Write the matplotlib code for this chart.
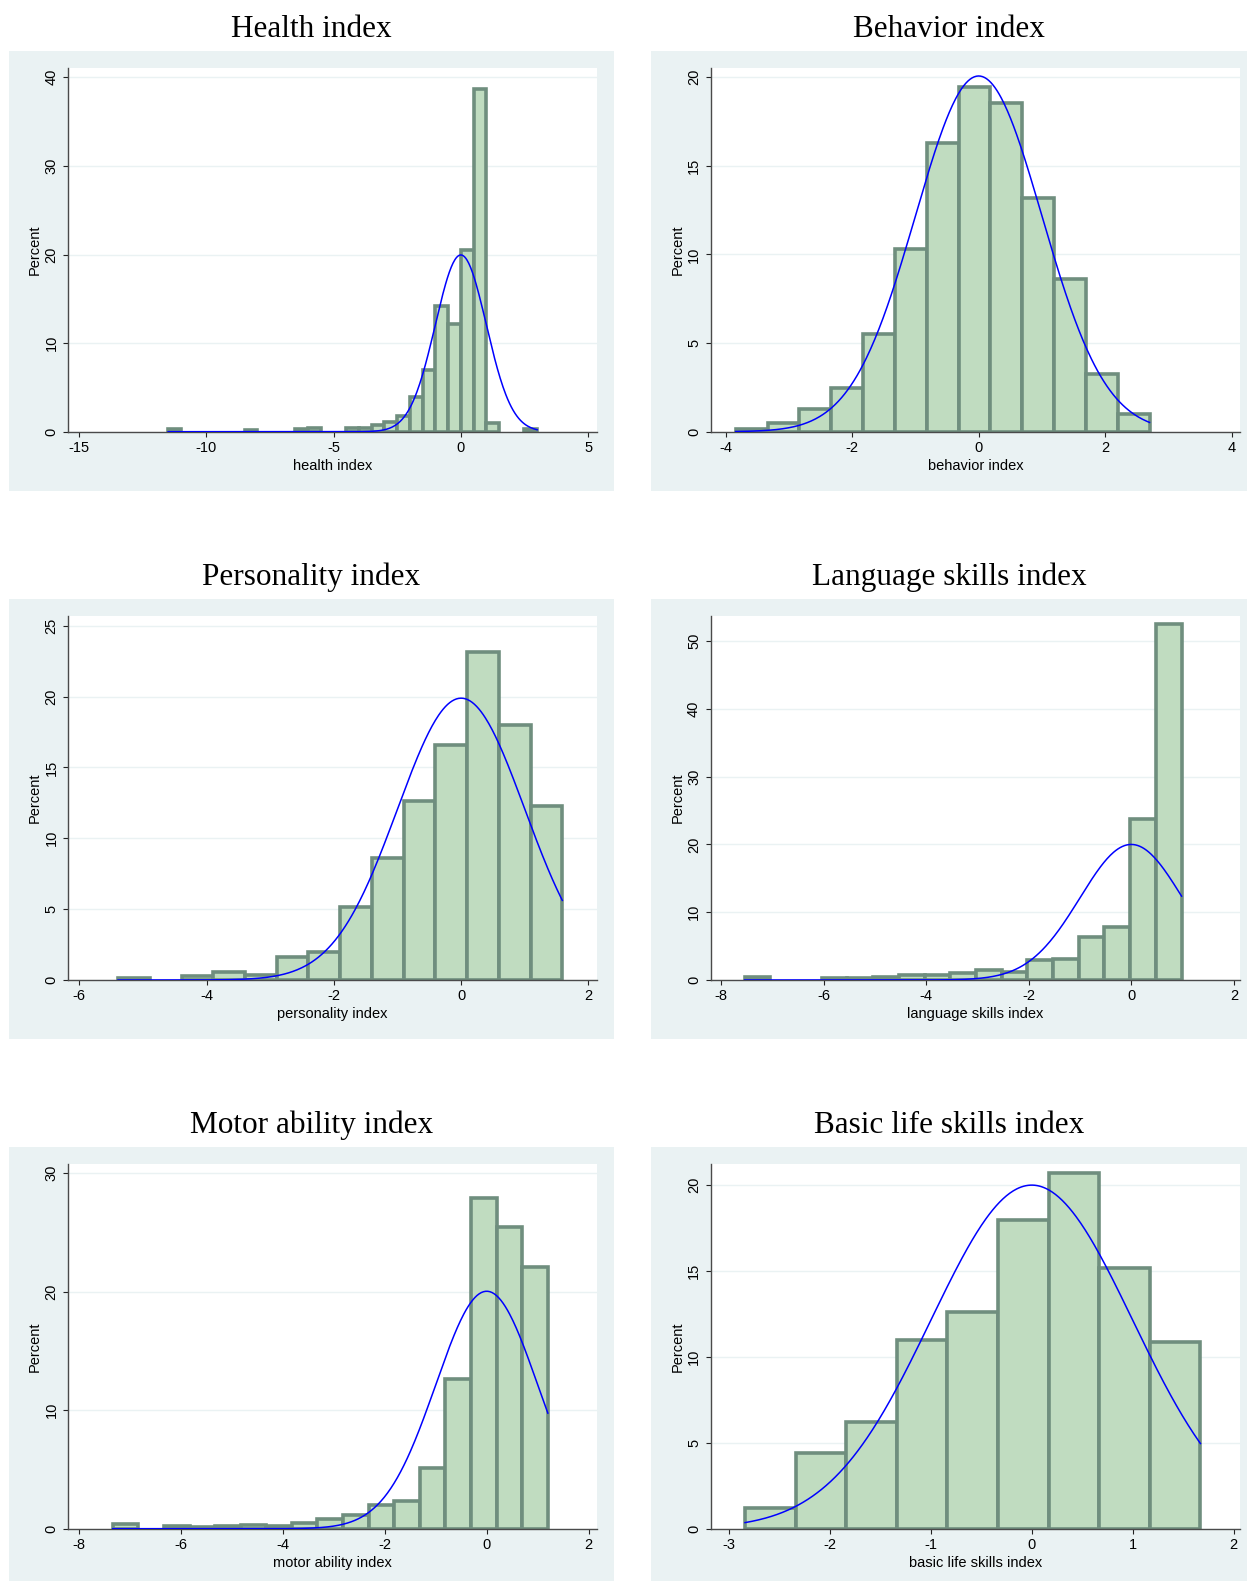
import numpy as np
import matplotlib.pyplot as plt
from matplotlib.patches import Rectangle

W, H = 1247, 1581

titles = ["Health index", "Behavior index", "Personality index",
          "Language skills index", "Motor ability index", "Basic life skills index"]
xlabels = ["health index", "behavior index", "personality index",
           "language skills index", "motor ability index", "basic life skills index"]

# histogram bins: (min, max) of the data, percent per bin
health_range = (-11.5, 3.0)
health_pct = [0.25, 0, 0, 0, 0, 0, 0.2, 0, 0, 0, 0.25, 0.4, 0, 0, 0.4, 0.4,
              0.75, 1.05, 1.8, 3.9, 7.0, 14.2, 12.1, 20.5, 38.7, 0.95, 0, 0, 0.26]

behavior_range = (-3.84, 2.70)
behavior_pct = [0.13, 0.5, 1.3, 2.48, 5.53, 10.31, 16.27, 19.42, 18.57, 13.19,
                8.6, 3.24, 0.98]

personality_range = (-5.39, 1.59)
personality_pct = [0.16, 0, 0.28, 0.56, 0.35, 1.6, 2.0, 5.13, 8.63, 12.63,
                   16.56, 23.14, 17.97, 12.28]

language_range = (-7.54, 0.98)
language_pct = [0.5, 0, 0, 0.34, 0.34, 0.5, 0.74, 0.74, 0.98, 1.43, 1.23,
                2.95, 3.15, 6.39, 7.87, 23.75, 52.46]

motor_range = (-7.34, 1.20)
motor_pct = [0.39, 0, 0.22, 0.14, 0.22, 0.34, 0.22, 0.45, 0.79, 1.15, 1.97,
             2.36, 5.15, 12.6, 27.95, 25.44, 22.12]

basic_range = (-2.84, 1.67)
basic_pct = [1.22, 4.42, 6.23, 10.98, 12.63, 17.96, 20.72, 15.19, 10.84]

# normal overlay: sample mean and sd of each standardized index
curve_mean = [0, 0, 0, 0, 0, 0]
curve_sd = [1, 1, 1, 1, 1, 1]

ranges = [health_range, behavior_range, personality_range,
          language_range, motor_range, basic_range]
pcts = [health_pct, behavior_pct, personality_pct,
        language_pct, motor_pct, basic_pct]

xlims = [(-15.42, 5.35), (-4.23, 4.13), (-6.17, 2.135),
         (-8.195, 2.12), (-8.21, 2.165), (-3.177, 2.062)]
ylims = [41.05, 20.52, 25.71, 53.73, 30.78, 21.22]
xticks = [[-15, -10, -5, 0, 5], [-4, -2, 0, 2, 4], [-6, -4, -2, 0, 2],
          [-8, -6, -4, -2, 0, 2], [-8, -6, -4, -2, 0, 2], [-3, -2, -1, 0, 1, 2]]
yticks = [[0, 10, 20, 30, 40], [0, 5, 10, 15, 20], [0, 5, 10, 15, 20, 25],
          [0, 10, 20, 30, 40, 50], [0, 10, 20, 30], [0, 5, 10, 15, 20]]

BG = '#EAF2F3'
FILL = '#C0DCC0'
EDGE = '#6F8E7E'
SANS = 'Liberation Sans'
SERIF = 'Liberation Serif'

# layout in pixels
col_box = [(9, 614), (651, 1247)]
col_ax = [(68.4, 597), (711, 1240)]
row_box = [(51, 491), (599, 1038.5), (1146.7, 1581)]
row_ax = [(68, 431.7), (615.7, 980), (1164, 1528.7)]
title_base = [37.3, 585.3, 1133]

fig = plt.figure(figsize=(W / 100, H / 100), dpi=100)
fig.patch.set_facecolor('white')


def draw_panel(i):
    r, c = divmod(i, 2)
    bx0, bx1 = col_box[c]
    by0, by1 = row_box[r]
    fig.patches.append(Rectangle((bx0 / W, 1 - by1 / H), (bx1 - bx0) / W,
                                 (by1 - by0) / H, transform=fig.transFigure,
                                 facecolor=BG, edgecolor='none', zorder=-10))
    fig.text((bx0 + bx1) / 2 / W, 1 - title_base[r] / H, titles[i],
             ha='center', va='baseline', fontsize=22.5, family=SERIF)

    ax0, ax1 = col_ax[c]
    ay0, ay1 = row_ax[r]
    ax = fig.add_axes([ax0 / W, 1 - ay1 / H, (ax1 - ax0) / W, (ay1 - ay0) / H])
    ax.set_facecolor('white')

    lo, hi = ranges[i]
    heights = np.array(pcts[i], dtype=float)
    edges = np.linspace(lo, hi, len(heights) + 1)
    w = edges[1] - edges[0]
    keep = heights > 0
    ax.bar(edges[:-1][keep], heights[keep], width=w, align='edge',
           color=FILL, edgecolor=EDGE, linewidth=2.6, zorder=2)

    xs = np.linspace(lo, hi, 400)
    mu, sd = curve_mean[i], curve_sd[i]
    ys = 100 * w * np.exp(-0.5 * ((xs - mu) / sd) ** 2) / (sd * np.sqrt(2 * np.pi))
    ax.plot(xs, ys, color='#0000FF', linewidth=1.1, zorder=3)

    ax.set_xlim(*xlims[i])
    ax.set_ylim(0, ylims[i])
    ax.set_xticks(xticks[i])
    ax.set_yticks(yticks[i])
    ax.set_xticklabels([str(t) for t in xticks[i]], family=SANS, fontsize=10.5)
    ax.set_yticklabels([str(t) for t in yticks[i]], family=SANS, fontsize=10.5)
    for lab in ax.get_yticklabels():
        lab.set_rotation(90)
        lab.set_va('center')
        lab.set_ha('right')

    ax.yaxis.grid(True, color=BG, linewidth=1.0, zorder=0)
    ax.set_axisbelow(True)
    for side in ['top', 'right']:
        ax.spines[side].set_visible(False)
    for side in ['left', 'bottom']:
        ax.spines[side].set_color('#4a4a4a')
        ax.spines[side].set_linewidth(1.0)
    ax.tick_params(axis='x', direction='out', length=3.6, width=0.8,
                   color='#222222', pad=3.2)
    ax.tick_params(axis='y', direction='out', length=3.6, width=0.8,
                   color='#222222', pad=3.6)

    ax.set_xlabel(xlabels[i], family=SANS, fontsize=10.5)
    ax.xaxis.label.set_va('baseline')
    ax.xaxis.set_label_coords(0.5, -38.3 / (ay1 - ay0))
    ax.set_ylabel('Percent', family=SANS, fontsize=10.5)
    ax.yaxis.label.set_va('baseline')
    ax.yaxis.set_label_coords(-29.3 / (ax1 - ax0), 0.5)


for i in range(6):
    draw_panel(i)

fig.savefig('out.png', dpi=100, facecolor='white')
